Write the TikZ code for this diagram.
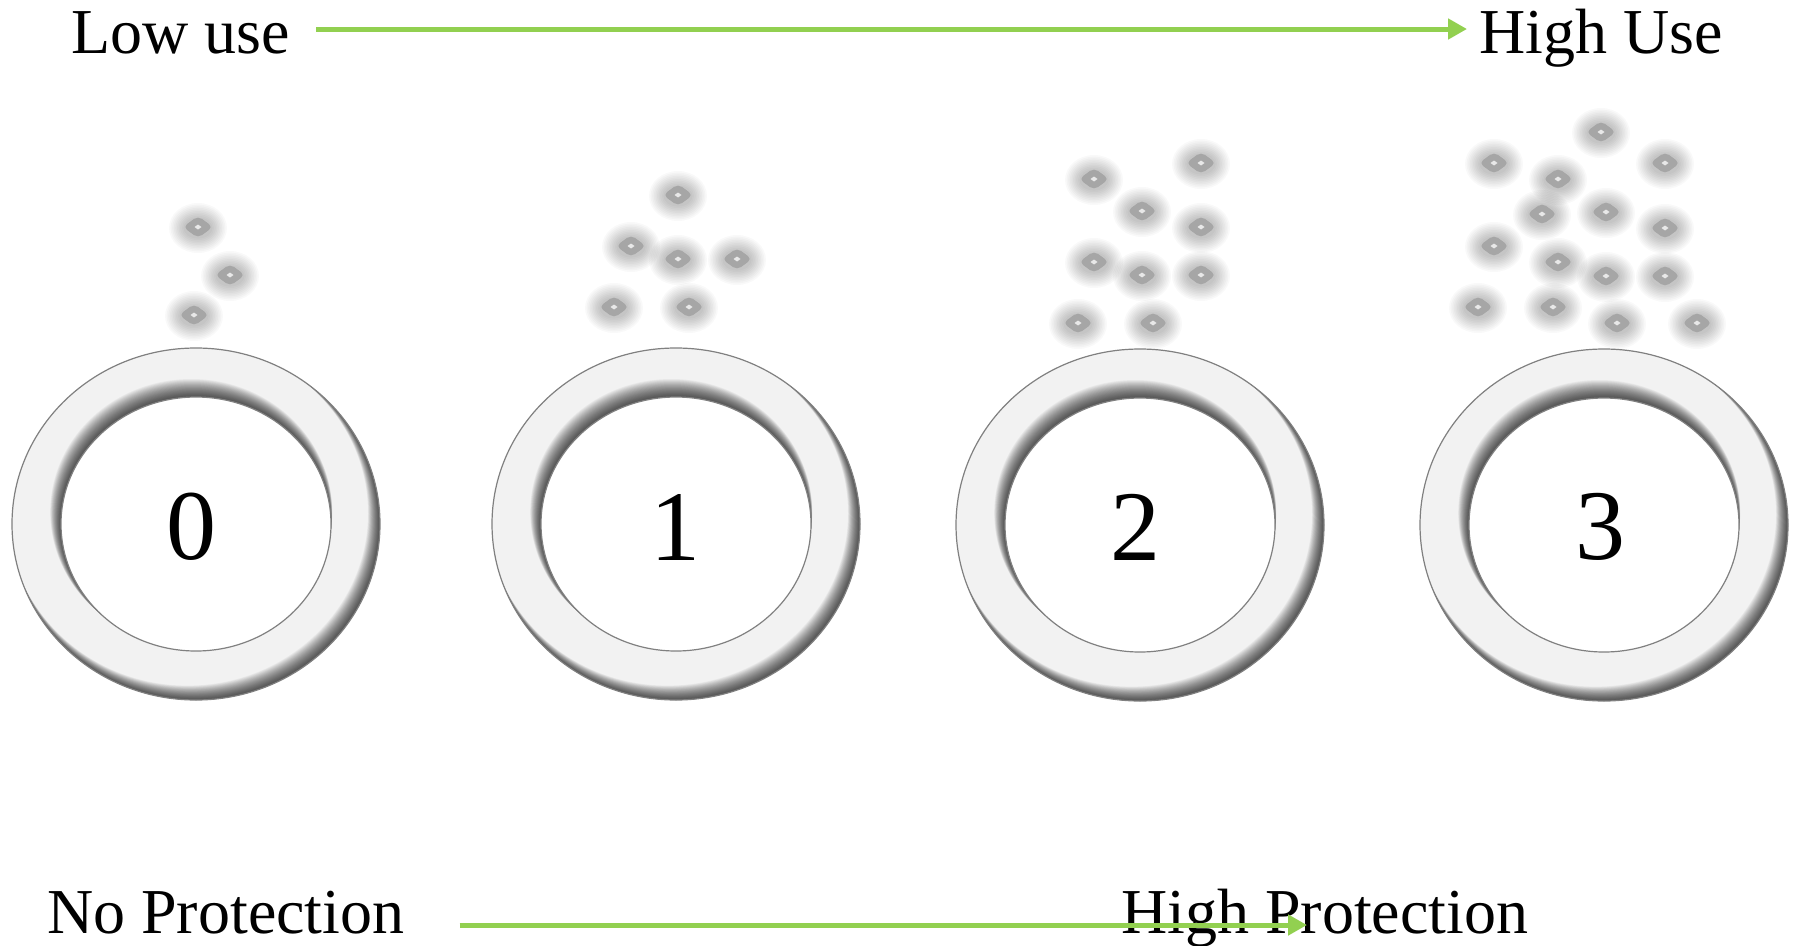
\documentclass[tikz,border=0pt]{standalone}
\usepackage{fontspec}
\setmainfont{Liberation Serif}
\usetikzlibrary{arrows.meta,calc}
\definecolor{arrowgreen}{HTML}{92D050}
\definecolor{ringfill}{HTML}{F2F2F2}
\definecolor{ringedge}{HTML}{808080}
\definecolor{dotgray}{HTML}{A6A6A6}
\definecolor{dotcenter}{HTML}{E8E8E8}
\tikzset{
  label/.style={inner sep=0pt, anchor=base west, font=\fontsize{64}{77}\selectfont},
  digit/.style={inner sep=0pt, font=\fontsize{100}{100}\selectfont},
  greenarrow/.style={draw=arrowgreen, line width=5pt, -{Triangle[length=19pt,width=20pt]}},
  ringline/.style={draw=ringedge, line width=1.2pt},
  ringpic/.pic={
    \fill[ringfill] (0,0) ellipse [x radius=184, y radius=176];
    \begin{scope}
      \clip (0,0) ellipse [x radius=184, y radius=176];
      \foreach \i in {1,...,24} {
        \fill[black, opacity=0.04] (-0.2*\i,-0.5*\i) ellipse [x radius=135+0.25*\i, y radius=127+0.25*\i];
        \fill[black, opacity=0.04, even odd rule] (0,0) ellipse [x radius=200, y radius=192]
             (-0.35*\i,-0.45*\i) ellipse [x radius=184-0.15*\i, y radius=176-0.15*\i];
      }
    \end{scope}
    \fill[white] (0,0) ellipse [x radius=135, y radius=127];
    \draw[ringline] (0,0) ellipse [x radius=184, y radius=176];
    \draw[ringline] (0,0) ellipse [x radius=135, y radius=127];
  },
  dotpic/.pic={
    \foreach \k in {1,...,10} {
      \fill[black, opacity=0.025] (0,1) ellipse [x radius=13+1.6*\k, y radius=9+1.6*\k];
    }
    \fill[dotgray, rounded corners=5pt] (-15,0) -- (0,-11) -- (15,0) -- (0,11) -- cycle;
    \fill[dotcenter] (-3.5,0) -- (0,-2.5) -- (3.5,0) -- (0,2.5) -- cycle;
  }
}
\begin{document}
\begin{tikzpicture}[x=1pt, y=-1pt]
\fill[white] (0,0) rectangle (1798,945);
\useasboundingbox (0,0) rectangle (1798,945);

% rings
\pic at (196,524) {ringpic};
\pic at (676,524) {ringpic};
\pic at (1140,525) {ringpic};
\pic at (1604,525) {ringpic};

% numbers
\node[digit] (d0) at (191,527) {0};
\node[digit] (d1) at (675,527) {1};
\node[digit] (d2) at (1135,527) {2};
\node[digit] (d3) at (1600,527) {3};

% particles ring 0
\foreach \p in {(198,227),(230,275),(194,315)} \pic at \p {dotpic};
% particles ring 1
\foreach \p in {(678,195),(631,246),(678,259),(737,259),(614,307),(689,307)} \pic at \p {dotpic};
% particles ring 2
\foreach \p in {(1201,163),(1094,179),(1142,211),(1201,227),(1094,262),(1142,275),(1201,275),(1078,323),(1153,323)} \pic at \p {dotpic};
% particles ring 3
\foreach \p in {(1601,132),(1494,163),(1665,163),(1558,179),(1542,214),(1606,212),(1665,228),(1494,246),(1558,262),(1606,276),(1665,276),(1478,307),(1553,307),(1617,323),(1697,323)} \pic at \p {dotpic};

% labels
\node[label] (low) at (71,53) {Low use};
\node[label] (high) at (1479,53) {High Use};
\node[label] (noprot) at (47,933) {No Protection};
\node[label] (highprot) at (1121,933) {High Protection};

% arrows
\coordinate (ta) at ([shift={(26,-24)}]low.base east);
\coordinate (tb) at ([shift={(-12,-24)}]high.base west);
\draw[greenarrow] (ta) -- (tb);
\coordinate (ba) at ([shift={(55,-8)}]noprot.base east);
\coordinate (bb) at ([shift={(186,-8)}]highprot.base west);
\draw[greenarrow] (ba) -- (bb);
\end{tikzpicture}
\end{document}
